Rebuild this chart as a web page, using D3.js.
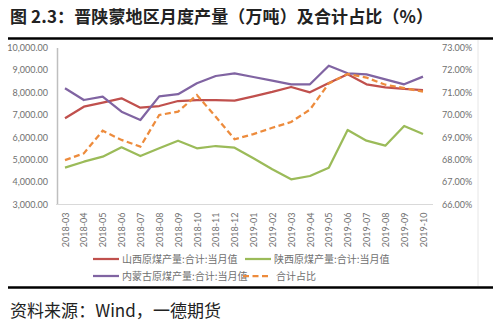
<!DOCTYPE html>
<html><head><meta charset="utf-8">
<script src="https://cdn.jsdelivr.net/npm/d3@7"></script>
<style>body{margin:0;background:#fff}svg{display:block}</style>
</head><body>
<script>
const months = ["2018-03","2018-04","2018-05","2018-06","2018-07","2018-08","2018-09","2018-10","2018-11","2018-12","2019-01","2019-02","2019-03","2019-04","2019-05","2019-06","2019-07","2019-08","2019-09","2019-10"];
const shanxi = [6843,7360,7539,7735,7316,7391,7614,7659,7659,7630,7820,8020,8240,8000,8420,8805,8360,8220,8150,8105];
const shaanxi = [4641,4908,5131,5550,5162,5505,5845,5505,5608,5532,5060,4569,4123,4271,4641,6321,5845,5622,6500,6143];
const neimeng = [8181,7659,7806,7137,6767,7820,7920,8403,8729,8849,8684,8519,8359,8359,9188,8849,8805,8582,8359,8700];
const share = [67.98,68.28,69.29,68.88,68.58,69.99,70.14,70.88,69.91,68.91,69.14,69.42,69.68,70.23,71.40,71.82,71.66,71.34,71.19,71.03];
const leftTicks = [3000,4000,5000,6000,7000,8000,9000,10000];
const rightTicks = [66,67,68,69,70,71,72,73];
const seriesNames = ["山西原煤产量:合计:当月值","陕西原煤产量:合计:当月值","内蒙古原煤产量:合计:当月值","合计占比"];
const titleText = "图 2.3：晋陕蒙地区月度产量（万吨）及合计占比（%）";
const sourceText = "资料来源：Wind，一德期货";

const W = 500, H = 327;
const svg = d3.select("body").append("svg").attr("width", W).attr("height", H);
const cjk = "'Noto Sans CJK SC', sans-serif";
const num = "Lato, 'Liberation Sans', sans-serif";

// title
svg.append("text").attr("x", 10).attr("y", 23).attr("font-family", cjk).attr("font-size", 17)
  .attr("font-weight", "bold").attr("fill", "#222")
  .attr("textLength", 423).attr("lengthAdjust", "spacing").text(titleText);
svg.append("line").attr("x1", 8).attr("x2", 493).attr("y1", 38.5).attr("y2", 38.5).attr("stroke", "#000").attr("stroke-width", 2.5);
svg.append("line").attr("x1", 8).attr("x2", 493).attr("y1", 287.5).attr("y2", 287.5).attr("stroke", "#000").attr("stroke-width", 2.5);
svg.append("line").attr("x1", 478).attr("x2", 478).attr("y1", 40).attr("y2", 286).attr("stroke", "#e6e6e6").attr("stroke-width", 1);
svg.append("text").attr("x", 10).attr("y", 317).attr("font-family", cjk).attr("font-size", 17)
  .attr("fill", "#222").attr("textLength", 211).attr("lengthAdjust", "spacing").text(sourceText);

const x = d3.scalePoint().domain(months).range([65, 423]);
const yL = d3.scaleLinear().domain([3000, 10000]).range([204.5, 47.5]);
const yR = d3.scaleLinear().domain([66, 73]).range([204.5, 47.5]);

// axes
const gl = svg.append("g").attr("transform", "translate(57,0)")
  .call(d3.axisLeft(yL).tickValues(leftTicks).tickFormat(d3.format(",.2f")).tickSize(0).tickPadding(9));
gl.select(".domain").attr("stroke", "#bfbfbf").attr("stroke-width", 1.5);
gl.selectAll("text").attr("font-family", num).attr("font-size", 9).attr("fill", "#6f6f6f");

const gr = svg.append("g").attr("transform", "translate(433,0)")
  .call(d3.axisRight(yR).tickValues(rightTicks).tickFormat(d => d.toFixed(2) + "%").tickSize(0).tickPadding(9));
gr.select(".domain").remove();
gr.selectAll("text").attr("font-family", num).attr("font-size", 9).attr("fill", "#6f6f6f");

const gb = svg.append("g").attr("transform", "translate(0,204.5)")
  .call(d3.axisBottom(x).tickSize(0));
gb.select(".domain").attr("stroke", "#d9d9d9").attr("stroke-width", 1).attr("d", "M56,0H433");
gb.selectAll("text").attr("font-family", num).attr("font-size", 9).attr("fill", "#6f6f6f")
  .attr("text-anchor", "end").attr("transform", "rotate(-90)").attr("x", -8).attr("y", 0).attr("dy", "0.35em");

const colors = ["#c0504d", "#9bbb59", "#8064a2", "#ed8b3c"];
const lineL = d3.line().x((d, i) => x(months[i])).y(d => yL(d));
const lineR = d3.line().x((d, i) => x(months[i])).y(d => yR(d));
[[shanxi, 0], [shaanxi, 1], [neimeng, 2]].forEach(([arr, k]) => {
  svg.append("path").attr("d", lineL(arr)).attr("fill", "none").attr("stroke", colors[k])
    .attr("stroke-width", 2.25).attr("stroke-linejoin", "round");
});
svg.append("path").attr("d", lineR(share)).attr("fill", "none").attr("stroke", colors[3])
  .attr("stroke-width", 2.25).attr("stroke-dasharray", "6,3.5");

// legend
const legPos = [[93, 259], [245, 259], [93, 276], [243, 276]];
seriesNames.forEach((n, k) => {
  const [lx, ly] = legPos[k];
  svg.append("line").attr("x1", lx).attr("x2", lx + 26).attr("y1", ly).attr("y2", ly)
    .attr("stroke", colors[k]).attr("stroke-width", 2.25)
    .attr("stroke-dasharray", k === 3 ? "6,3.5" : null);
  svg.append("text").attr("x", lx + 29 + (k === 3 ? 4 : 0)).attr("y", ly).attr("dy", "0.35em")
    .attr("font-family", cjk).attr("font-size", 10).attr("fill", "#6f6f6f").text(n);
});
</script>
</body></html>
